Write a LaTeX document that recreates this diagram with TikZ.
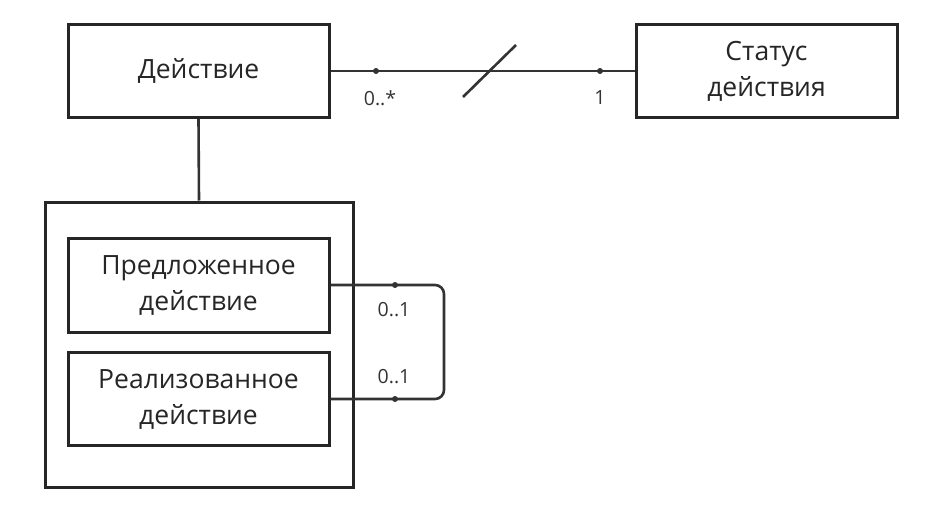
\documentclass[tikz,border=0pt]{standalone}
\usepackage{fontspec}
\setmainfont{Open Sans}
\begin{document}
\begin{tikzpicture}[x=1pt,y=-1pt,
  box/.style={draw=black!85,line width=3pt,fill=white,inner sep=0pt,align=center,font=\fontsize{26.5}{36}\selectfont,text=black!85},
  conn/.style={draw=black!80,line width=2.6pt},
  mult/.style={font=\fontsize{19.5}{22}\selectfont,text=black!80,inner sep=0pt},
  dot/.style={circle,fill=black!80,inner sep=0pt,minimum size=6pt}]
\useasboundingbox (0,0) rectangle (947,522);
\node[box,minimum width=261pt,minimum height=93pt] (act) at (198.5,71) {Действие};
\node[box,minimum width=261pt,minimum height=93pt] (st) at (766.5,71) {Статус\\действия};
\node[box,minimum width=308pt,minimum height=285pt] (outer) at (199,344.5) {};
\node[box,minimum width=261pt,minimum height=94pt] (prop) at (198.5,285) {Предложенное\\действие};
\node[box,minimum width=261pt,minimum height=93pt] (real) at (198.5,399) {Реализованное\\действие};
\draw[conn] (act.east) -- (st.west);
\node[dot] (d1) at (376,71) {};
\node[dot] (d2) at (600,71) {};
\coordinate (s1) at (463,97);
\coordinate (s2) at (516,45);
\draw[conn] (s1) -- (s2);
\node[mult] (m1) at (380,98) {0..*};
\node[mult] (m2) at (600,98) {1};
\draw[conn] (act.south) -- (outer.north);
\coordinate (c1) at (444,285);
\coordinate (c2) at (444,399);
\draw[conn,rounded corners=9pt] (prop.east) -- (c1) -- (c2) -- (real.east);
\node[dot] (d3) at (395,285) {};
\node[dot] (d4) at (395,399) {};
\node[mult] (m3) at (394,310) {0..1};
\node[mult] (m4) at (394,377) {0..1};
\end{tikzpicture}
\end{document}
